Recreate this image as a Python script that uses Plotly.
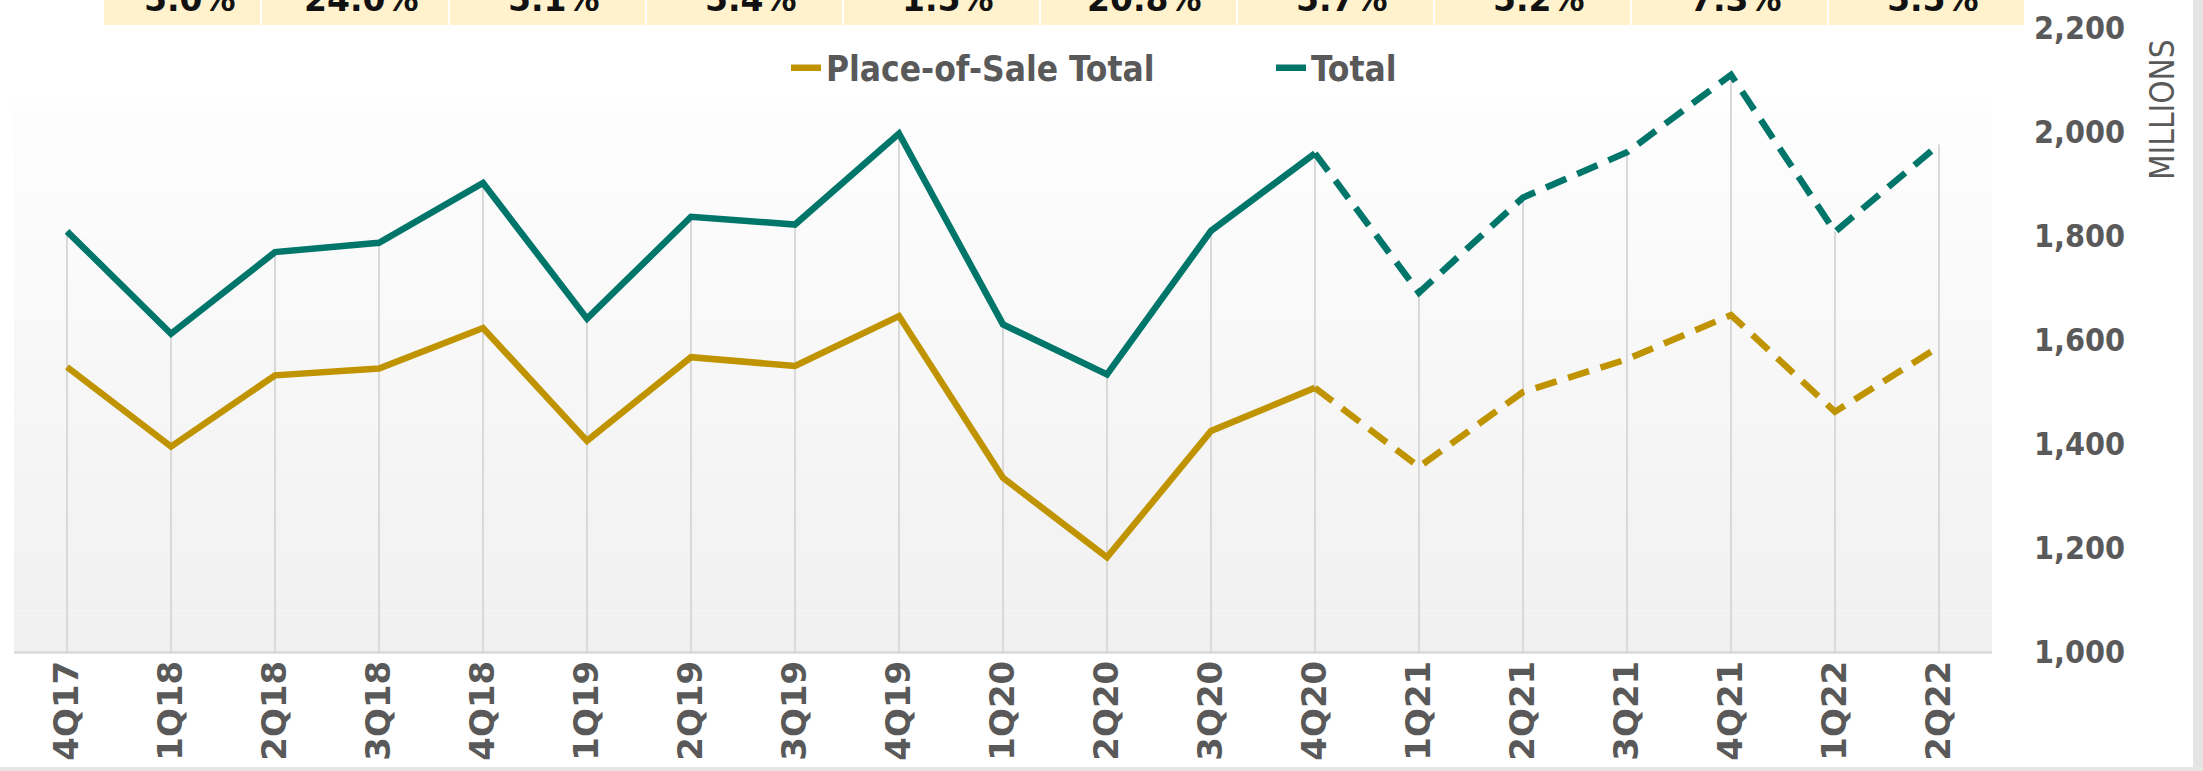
import plotly.graph_objects as go

# ---------------- data ----------------
quarters = ["4Q17", "1Q18", "2Q18", "3Q18", "4Q18", "1Q19", "2Q19", "3Q19", "4Q19",
            "1Q20", "2Q20", "3Q20", "4Q20", "1Q21", "2Q21", "3Q21", "4Q21", "1Q22", "2Q22"]
total = [1809, 1612, 1769, 1787, 1902, 1641, 1837, 1822, 1997,
         1630, 1534, 1810, 1959, 1691, 1874, 1961, 2110, 1808, 1976]
place_of_sale = [1548, 1395, 1532, 1545, 1623, 1406, 1567, 1550, 1646,
                 1335, 1182, 1425, 1508, 1356, 1500, 1563, 1648, 1462, 1587]
last_actual = 12          # index of 4Q20: dashed afterwards
y_ticks = [1000, 1200, 1400, 1600, 1800, 2000, 2200]
band_labels = ["5.0%", "24.0%", "5.1%", "5.4%", "1.5%", "20.8%", "5.7%", "5.2%", "7.3%", "5.5%"]

# ---------------- styling ----------------
W, H = 2203, 771
ML, MR, MT, MB = 15, 212, 28, 119
PW, PH = W - ML - MR, H - MT - MB
TEAL = "#00756A"
GOLD = "#C09300"
GREY_TXT = "#595959"
COND = "DejaVu Sans Condensed, Liberation Sans Narrow, DejaVu Sans, sans-serif"
WIDE = "DejaVu Sans, Verdana, sans-serif"


def px_x(px):
    return (px - ML) / PW


def px_y(py):
    return (H - MB - py) / PH


fig = go.Figure()

# drop lines from the Total points to the axis
dx, dy = [], []
for q, v in zip(quarters, total):
    dx += [q, q, None]
    dy += [v, y_ticks[0], None]
fig.add_trace(go.Scatter(x=dx, y=dy, mode="lines", line=dict(color="#D9D9D9", width=2),
                         showlegend=False, hoverinfo="skip"))

# solid (actual) and dashed (later) parts
fig.add_trace(go.Scatter(x=quarters[:last_actual + 1], y=place_of_sale[:last_actual + 1],
                         mode="lines", name="Place-of-Sale Total",
                         line=dict(color=GOLD, width=6.5), legendrank=1))
fig.add_trace(go.Scatter(x=quarters[last_actual:], y=place_of_sale[last_actual:],
                         mode="lines", showlegend=False,
                         line=dict(color=GOLD, width=6.5, dash="22px,12px")))
fig.add_trace(go.Scatter(x=quarters[:last_actual + 1], y=total[:last_actual + 1],
                         mode="lines", name="Total",
                         line=dict(color=TEAL, width=6.5), legendrank=2))
fig.add_trace(go.Scatter(x=quarters[last_actual:], y=total[last_actual:],
                         mode="lines", showlegend=False,
                         line=dict(color=TEAL, width=6.5, dash="22px,12px")))

shapes = []
# gradient plot-area background
top_px, bot_px, left_px, right_px = 97, 652, 14, 1992
n = 40
c0, c1 = 254, 240
for i in range(n):
    y0 = top_px + (bot_px - top_px) * i / n
    y1 = top_px + (bot_px - top_px) * (i + 1) / n
    g = round(c0 + (c1 - c0) * (i + 0.5) / n)
    shapes.append(dict(type="rect", xref="paper", yref="paper",
                       x0=px_x(left_px), x1=px_x(right_px), y0=px_y(y1), y1=px_y(y0),
                       fillcolor=f"rgb({g},{g},{g})", line=dict(width=0), layer="below"))
# x-axis line
shapes.append(dict(type="line", xref="paper", yref="paper",
                   x0=px_x(left_px), x1=px_x(right_px), y0=px_y(652.5), y1=px_y(652.5),
                   line=dict(color="#D9D9D9", width=2.5), layer="below"))

# top band of cream cells
cells = [(104, 260), (262, 448), (450, 645), (647, 842), (844, 1039),
         (1041, 1236), (1238, 1433), (1435, 1630), (1632, 1827), (1829, 2024)]
annotations = []
for (a, b), lab in zip(cells, band_labels):
    shapes.append(dict(type="rect", xref="paper", yref="paper",
                       x0=px_x(a), x1=px_x(b), y0=px_y(25), y1=px_y(-2),
                       fillcolor="#FFF2CC", line=dict(width=0), layer="below"))
    cx = 190 if a == 104 else (a + b) / 2 + 6
    annotations.append(dict(xref="paper", yref="paper", x=px_x(cx), y=px_y(0),
                            text=lab, showarrow=False, xanchor="center", yanchor="middle",
                            font=dict(family=WIDE, size=33, color="#111111", weight="bold")))

# grey window edges
shapes.append(dict(type="rect", xref="paper", yref="paper", x0=px_x(2193), x1=px_x(2210),
                   y0=px_y(780), y1=px_y(-5), fillcolor="#E4E4E4", line=dict(width=0), layer="below"))
shapes.append(dict(type="rect", xref="paper", yref="paper", x0=px_x(-5), x1=px_x(2210),
                   y0=px_y(780), y1=px_y(767), fillcolor="#E6E6E6", line=dict(width=0), layer="below"))

# axis title
annotations.append(dict(xref="paper", yref="paper", x=px_x(2163), y=px_y(110),
                        text="MILLIONS", textangle=-90, showarrow=False,
                        xanchor="center", yanchor="middle",
                        font=dict(family=COND, size=33, color=GREY_TXT)))

fig.update_layout(
    width=W, height=H,
    margin=dict(l=ML, r=MR, t=MT, b=MB, pad=0, autoexpand=False),
    paper_bgcolor="white", plot_bgcolor="rgba(0,0,0,0)",
    shapes=shapes, annotations=annotations,
    showlegend=True,
    legend=dict(orientation="h", x=px_x(786), y=px_y(68), xanchor="left", yanchor="middle",
                entrywidth=440, entrywidthmode="pixels",
                font=dict(family=COND, size=35, color=GREY_TXT, weight="bold"),
                bgcolor="rgba(0,0,0,0)", traceorder="normal"),
    xaxis=dict(type="category", range=[-0.5, len(quarters) - 0.5], showgrid=False,
               zeroline=False, showline=False, ticks="", tickangle=-90, automargin=False,
               tickfont=dict(family=WIDE, size=34, color=GREY_TXT, weight="bold"),
               ticklabelstandoff=1),
    yaxis=dict(range=[y_ticks[0], y_ticks[-1]], side="right", showgrid=False, zeroline=False,
               showline=False, ticks="", tickvals=y_ticks, tickformat=",", automargin=False,
               tickfont=dict(family=COND, size=32, color=GREY_TXT, weight="bold"),
               ticklabelstandoff=42),
)

fig.write_html("out.html", config={"displayModeBar": False},
               post_script="document.body.style.margin='0';document.body.style.overflow='hidden';")
